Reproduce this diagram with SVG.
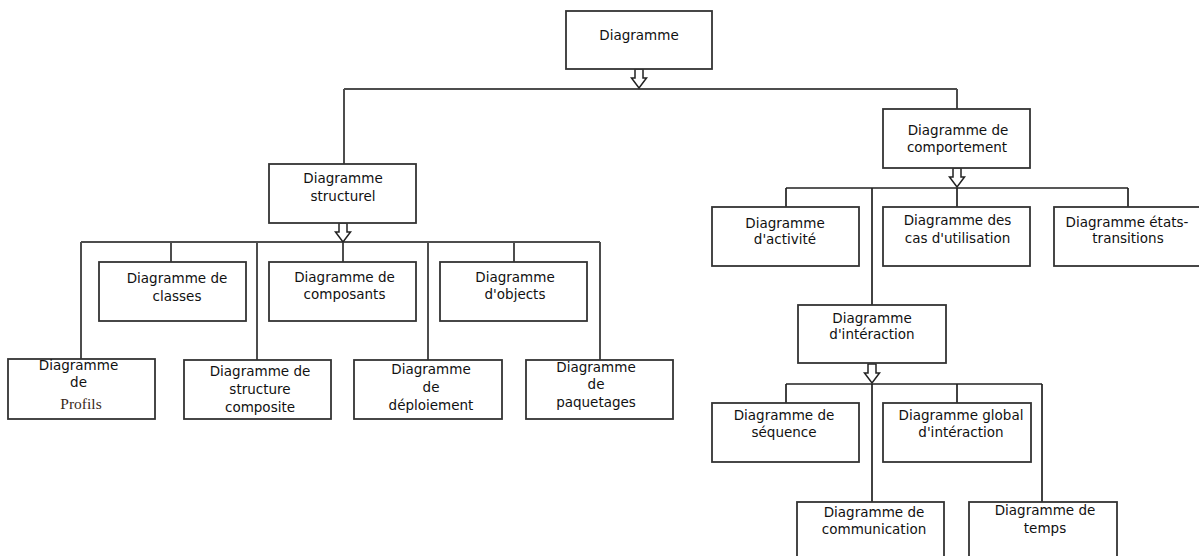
<svg xmlns="http://www.w3.org/2000/svg" xmlns:xlink="http://www.w3.org/1999/xlink" width="1199" height="556" viewBox="0 0 1199 556">
  <style>
    .box { fill: #ffffff; stroke: #333333; stroke-width: 1.8; }
    .lbl { font-family: "DejaVu Sans", sans-serif; font-size: 13.5px; fill: #111111; text-anchor: middle; }
    .serif { font-family: "Liberation Serif", serif; font-size: 15.5px; fill: #3a2a1a; }
    .wire { fill: none; stroke: #4d4d4d; stroke-width: 2; }
    .wire2 { fill: none; stroke: #222222; stroke-width: 1.7; }
    .gen { fill: #ffffff; stroke: #222222; stroke-width: 1.5; stroke-linejoin: miter; }
  </style>
  <defs>
    <!-- hollow generalisation arrow, origin at the parent box bottom -->
    <path id="genArrow" class="gen" d="M-4,0 L4,0 L4,9 L7.5,9 L0,19 L-7.5,9 L-4,9 Z"/>
  </defs>
  <rect width="1199" height="556" fill="#ffffff"/>

  <g id="connectors">
    <!-- root to the two families -->
    <path class="wire" d="M344,89 H957 M344,89 V164 M957,89 V109"/>
    <!-- structural family -->
    <path class="wire" d="M81,242 H600 M81,242 V359 M171,242 V262 M257,242 V360 M343,242 V262 M428,242 V360 M514,242 V262 M600,242 V360"/>
    <!-- behaviour family -->
    <path class="wire2" d="M786,188 H1128 M786,188 V207 M872,188 V305 M957,188 V207 M1128,188 V207"/>
    <!-- interaction family -->
    <path class="wire2" d="M786,384 H1042 M786,384 V403 M872,384 V502 M957,384 V403 M1042,384 V502"/>
    <use xlink:href="#genArrow" transform="translate(639,69)"/>
    <use xlink:href="#genArrow" transform="translate(343,223)"/>
    <use xlink:href="#genArrow" transform="translate(957,168)"/>
    <use xlink:href="#genArrow" transform="translate(872,364)"/>
  </g>

  <g id="diagramme">
    <rect class="box" x="566" y="11" width="146" height="58"/>
    <text class="lbl" x="639" y="40">Diagramme</text>
  </g>

  <g id="structurel">
    <rect class="box" x="269" y="164" width="147" height="59"/>
    <text class="lbl" x="343" y="183">Diagramme</text>
    <text class="lbl" x="343" y="201">structurel</text>
  </g>

  <g id="comportement">
    <rect class="box" x="883" y="109" width="147" height="59"/>
    <text class="lbl" x="958" y="135">Diagramme de</text>
    <text class="lbl" x="957" y="152">comportement</text>
  </g>

  <g id="classes">
    <rect class="box" x="99" y="262" width="147" height="59"/>
    <text class="lbl" x="177" y="283">Diagramme de</text>
    <text class="lbl" x="177" y="301">classes</text>
  </g>

  <g id="composants">
    <rect class="box" x="269" y="262" width="147" height="59"/>
    <text class="lbl" x="344.5" y="282">Diagramme de</text>
    <text class="lbl" x="344.5" y="299">composants</text>
  </g>

  <g id="objects">
    <rect class="box" x="440" y="262" width="147" height="59"/>
    <text class="lbl" x="515" y="282">Diagramme</text>
    <text class="lbl" x="515" y="299">d'objects</text>
  </g>

  <g id="profils">
    <rect class="box" x="8" y="359" width="147" height="60"/>
    <text class="lbl" x="78.5" y="370">Diagramme</text>
    <text class="lbl" x="78.5" y="387">de</text>
    <text class="lbl serif" x="81" y="409">Profils</text>
  </g>

  <g id="composite">
    <rect class="box" x="184" y="360" width="147" height="59"/>
    <text class="lbl" x="260" y="376">Diagramme de</text>
    <text class="lbl" x="260" y="394">structure</text>
    <text class="lbl" x="260" y="412">composite</text>
  </g>

  <g id="deploiement">
    <rect class="box" x="354" y="360" width="148" height="59"/>
    <text class="lbl" x="431" y="374">Diagramme</text>
    <text class="lbl" x="431" y="392">de</text>
    <text class="lbl" x="431" y="410">déploiement</text>
  </g>

  <g id="paquetages">
    <rect class="box" x="526" y="360" width="147" height="59"/>
    <text class="lbl" x="596" y="372">Diagramme</text>
    <text class="lbl" x="596" y="389">de</text>
    <text class="lbl" x="596" y="407">paquetages</text>
  </g>

  <g id="activite">
    <rect class="box" x="712" y="207" width="147" height="59"/>
    <text class="lbl" x="785" y="228">Diagramme</text>
    <text class="lbl" x="785" y="244">d'activité</text>
  </g>

  <g id="cas-utilisation">
    <rect class="box" x="883" y="207" width="147" height="59"/>
    <text class="lbl" x="957.5" y="225">Diagramme des</text>
    <text class="lbl" x="957.5" y="243">cas d'utilisation</text>
  </g>

  <g id="etats-transitions">
    <rect class="box" x="1054" y="207" width="147" height="59"/>
    <text class="lbl" x="1127" y="227">Diagramme états-</text>
    <text class="lbl" x="1128" y="243">transitions</text>
  </g>

  <g id="interaction">
    <rect class="box" x="798" y="305" width="148" height="58"/>
    <text class="lbl" x="872" y="323">Diagramme</text>
    <text class="lbl" x="872" y="339">d'intéraction</text>
  </g>

  <g id="sequence">
    <rect class="box" x="712" y="403" width="147" height="59"/>
    <text class="lbl" x="784" y="420">Diagramme de</text>
    <text class="lbl" x="784" y="437">séquence</text>
  </g>

  <g id="global-interaction">
    <rect class="box" x="883" y="403" width="148" height="59"/>
    <text class="lbl" x="961" y="420">Diagramme global</text>
    <text class="lbl" x="961" y="437">d'intéraction</text>
  </g>

  <g id="communication">
    <rect class="box" x="797" y="502" width="147" height="60"/>
    <text class="lbl" x="874" y="517">Diagramme de</text>
    <text class="lbl" x="874" y="534">communication</text>
  </g>

  <g id="temps">
    <rect class="box" x="969" y="502" width="148" height="60"/>
    <text class="lbl" x="1045" y="515">Diagramme de</text>
    <text class="lbl" x="1045" y="533">temps</text>
  </g>
</svg>
